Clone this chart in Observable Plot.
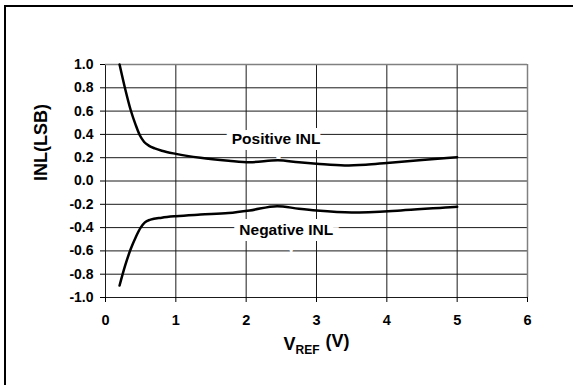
<!DOCTYPE html>
<html>
<head>
<meta charset="utf-8">
<script src="https://cdn.jsdelivr.net/npm/d3@7"></script>
<script src="https://cdn.jsdelivr.net/npm/@observablehq/plot@0.6"></script>
<style>
  html, body { margin: 0; padding: 0; background: #fff; overflow: hidden; }
  #wrap { position: relative; width: 573px; height: 385px; }
  #frame { position: absolute; left: 4px; top: 5px; width: 700px; height: 500px;
           border-left: 2px solid #000; border-top: 2px solid #000; pointer-events: none; }
</style>
</head>
<body>
<div id="wrap"><div id="chart"></div><div id="frame"></div></div>
<script>
// Tick values
const xTicks = [0, 1, 2, 3, 4, 5, 6];
const yTicks = [-1.0, -0.8, -0.6, -0.4, -0.2, 0.0, 0.2, 0.4, 0.6, 0.8, 1.0];

// Positive INL series
const posX = [0.2, 0.28, 0.36, 0.43, 0.49, 0.55, 0.62, 0.7, 0.8, 1.0, 1.35, 1.75, 2.05, 2.45, 2.75, 3.0, 3.4, 3.7, 4.0, 4.5, 5.0];
const posY = [1.0, 0.79, 0.605, 0.48, 0.39, 0.335, 0.302, 0.28, 0.26, 0.233, 0.199, 0.174, 0.161, 0.178, 0.16, 0.148, 0.133, 0.14, 0.155, 0.18, 0.204];

// Negative INL series
const negX = [0.2, 0.28, 0.36, 0.43, 0.5, 0.56, 0.64, 0.8, 1.0, 1.35, 1.75, 2.05, 2.44, 2.75, 3.0, 3.5, 4.2, 4.9, 5.0];
const negY = [-0.897, -0.725, -0.582, -0.482, -0.4, -0.355, -0.332, -0.315, -0.302, -0.288, -0.275, -0.253, -0.216, -0.238, -0.253, -0.27, -0.253, -0.225, -0.222];

// Series labels
const seriesNames = ["Positive INL", "Negative INL"];
const labelX = [2.425, 2.57];
const labelY = [0.362, -0.42];

const pos = posX.map((x, i) => ({x, y: posY[i]}));
const neg = negX.map((x, i) => ({x, y: negY[i]}));
const labels = seriesNames.map((t, i) => ({t, x: labelX[i], y: labelY[i]}));

const font = "'Liberation Sans', Arial, Helvetica, sans-serif";

const chart = Plot.plot({
  width: 573,
  height: 385,
  marginLeft: 105,
  marginRight: 46,
  marginTop: 64,
  marginBottom: 88,
  style: {fontFamily: font, fontWeight: "bold", fontSize: "14px", color: "#000", background: "#fff"},
  x: {domain: [0, 6]},
  y: {domain: [-1, 1]},
  marks: [
    Plot.ruleX(xTicks.slice(0, -1), {stroke: "#1a1a1a", strokeWidth: 1}),
    Plot.ruleY(yTicks.slice(0, -1), {stroke: "#1a1a1a", strokeWidth: 1}),
    Plot.ruleX(xTicks.slice(-1), {stroke: "#808080", strokeWidth: 1.5}),
    Plot.ruleY(yTicks.slice(-1), {stroke: "#808080", strokeWidth: 1.5}),
    Plot.text(labels, {x: "x", y: "y", text: "t", fontSize: 15.5, fontWeight: "bold",
      fill: "#000", stroke: "#fff", strokeWidth: 12, strokeLinejoin: "miter", textAnchor: "middle"}),
    Plot.line(pos, {x: "x", y: "y", stroke: "#000", strokeWidth: 2.5, curve: "monotone-x"}),
    Plot.line(neg, {x: "x", y: "y", stroke: "#000", strokeWidth: 2.5, curve: "monotone-x"}),
    Plot.axisY({ticks: yTicks, tickSize: 5, tickPadding: 7, tickFormat: d => d.toFixed(1), label: null, fontSize: 14}),
    Plot.axisX({ticks: xTicks, tickSize: 5, tickPadding: 12, tickFormat: d => String(d), label: null, fontSize: 14.5}),
    Plot.text(["INL(LSB)"], {frameAnchor: "left", dx: -64, rotate: -90, fontSize: 18, fontWeight: "bold", fill: "#000"}),
    Plot.text(["VREF (V)"], {frameAnchor: "bottom", dy: 52, fontSize: 18, fontWeight: "bold", fill: "#000"})
  ]
});

// Subscript for the x-axis title
d3.select(chart).selectAll("text").filter(function() { return this.textContent === "VREF (V)"; })
  .each(function() {
    const t = d3.select(this);
    t.text(null);
    t.append("tspan").text("V");
    t.append("tspan").attr("font-size", 12).attr("dy", "0.35em").text("REF");
    t.append("tspan").attr("dy", "-0.35em").attr("dx", 1).text(" (V)");
  });

document.getElementById("chart").appendChild(chart);
</script>
</body>
</html>
